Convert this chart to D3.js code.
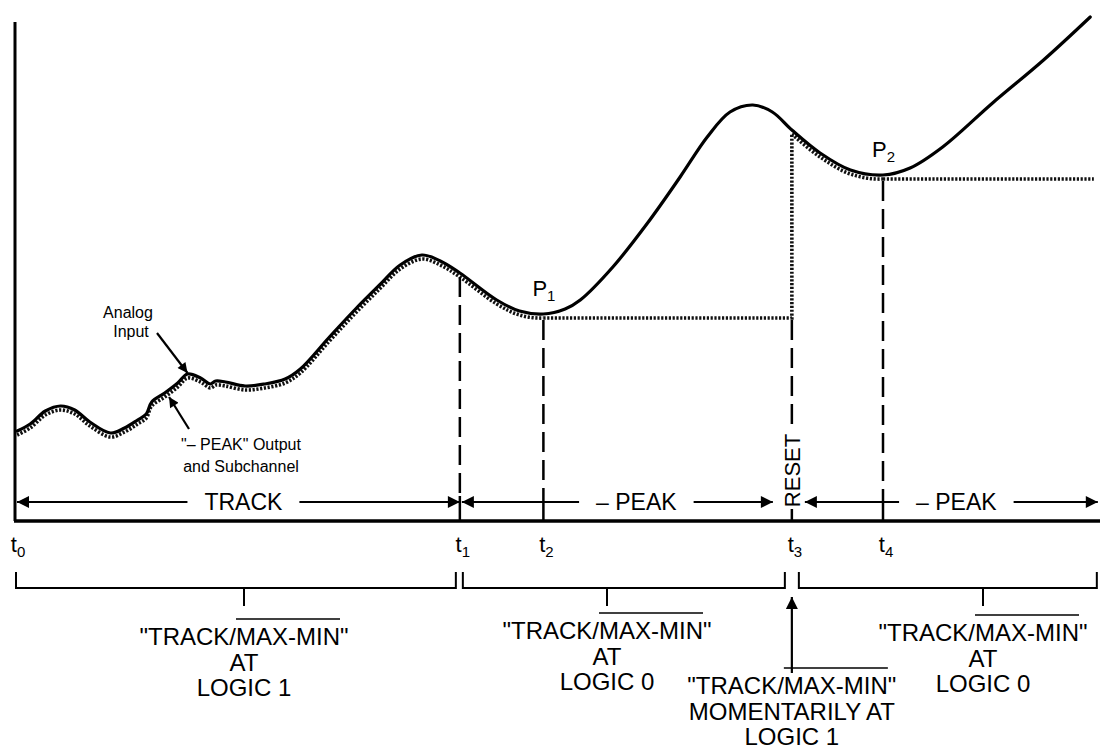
<!DOCTYPE html>
<html>
<head>
<meta charset="utf-8">
<script src="https://cdn.jsdelivr.net/npm/d3@7"></script>
<style>
  body { margin: 0; background: #fff; }
  svg { display: block; font-family: "Liberation Sans", Arial, sans-serif; }
</style>
</head>
<body>
<script>
// analog input (time units, signal units)
const inputTime = [0.2, 1.4, 2.8, 4.2, 5.5, 6.9, 8.8, 10.1, 11.3, 12.1, 12.6, 13.8, 15.0, 15.9, 17.1, 18.0, 18.5, 19.4, 21.2, 23.0,
  24.9, 26.3, 28.9, 31.3, 33.6, 35.5, 37.5, 39.2, 41.0, 44.4, 46.5, 48.7, 50.7, 52.1, 55.1, 58.3, 61.3, 63.8, 65.9, 68.0,
  69.8, 71.6, 74.2, 77.0, 80.0, 82.5, 85.5, 90.1, 94.8, 99.1];
const inputValue = [18.0, 19.4, 22.0, 23.0, 22.2, 19.8, 17.6, 18.6, 20.2, 21.4, 23.8, 25.6, 27.6, 29.4, 28.6, 27.4, 28.0, 27.8, 27.0, 27.4,
  28.4, 30.4, 36.6, 42.2, 47.2, 51.2, 53.2, 52.0, 49.6, 44.2, 42.0, 41.4, 42.4, 44.2, 50.8, 59.6, 68.8, 76.8, 81.8, 83.2,
  81.8, 78.2, 73.6, 70.2, 69.2, 70.6, 74.8, 83.6, 92.2, 100.8];

// event times t0..t4 and end of record
const eventNames = ["0", "1", "2", "3", "4"];
const eventTimes = [0, 41.0, 48.7, 71.6, 80.0];
const endTime = 99.8;

// modes between events
const phaseLabels = ["TRACK", "\u2013 PEAK", "\u2013 PEAK"];
const phaseSpans = [[0, 41.0], [41.0, 71.6], [71.6, 99.8]];

// logic notes under the brackets
const noteLines = [
  ["\"TRACK/MAX-MIN\"", "AT", "LOGIC 1"],
  ["\"TRACK/MAX-MIN\"", "AT", "LOGIC 0"],
  ["\"TRACK/MAX-MIN\"", "MOMENTARILY AT", "LOGIC 1"],
  ["\"TRACK/MAX-MIN\"", "AT", "LOGIC 0"]
];

const W = 1109, H = 753;
const x = d3.scaleLinear().domain([0, 100]).range([15, 1100]);
const y = d3.scaleLinear().domain([0, 100]).range([521, 21]);

const svg = d3.select("body").append("svg").attr("width", W).attr("height", H);
const defs = svg.append("defs");

function addHead(id, len, wid) {
  defs.append("marker").attr("id", id)
    .attr("viewBox", "0 0 10 10").attr("refX", 10).attr("refY", 5)
    .attr("markerUnits", "userSpaceOnUse")
    .attr("markerWidth", len).attr("markerHeight", wid)
    .attr("orient", "auto-start-reverse")
    .append("path").attr("d", "M0,0 L10,5 L0,10 z").attr("fill", "#000");
}
addHead("head", 16, 12);
addHead("headS", 13, 10);

const pts = inputTime.map((t, i) => [t, inputValue[i]]);
const valueAt = t => {
  const i = d3.bisector(d => d[0]).center(pts, t);
  return pts[i][1];
};
const [T0, T1, T2, T3, T4] = eventTimes;

// -PEAK detector: hold the minimum seen since t1, reset at t3
const hold1 = d3.min(pts.filter(d => d[0] >= T1 && d[0] <= T3), d => d[1]);
const hold2 = d3.min(pts.filter(d => d[0] >= T3), d => d[1]);

const line = d3.line().x(d => x(d[0])).y(d => y(d[1])).curve(d3.curveCatmullRom.alpha(0.5));

// output trace follows input where tracking
defs.append("clipPath").attr("id", "trackClip")
  .selectAll("rect").data([[-1, T2], [T3, T4]]).join("rect")
  .attr("x", d => x(d[0])).attr("width", d => x(d[1]) - x(d[0]))
  .attr("y", 0).attr("height", H);

const outG = svg.append("g").attr("transform", "translate(0,4)")
  .attr("fill", "none").attr("stroke", "#111")
  .attr("stroke-width", 3.6).attr("stroke-dasharray", "2.2,1.6");
outG.append("path").attr("d", line(pts)).attr("clip-path", "url(#trackClip)");
outG.append("path").attr("d", `M${x(T2)},${y(hold1)}H${x(T3)}V${y(valueAt(T3))}`);
outG.append("path").attr("d", `M${x(T4)},${y(hold2)}H${x(endTime) - 4}`);

// analog input
svg.append("path").attr("d", line(pts))
  .attr("fill", "none").attr("stroke", "#000").attr("stroke-width", 3.2)
  .attr("stroke-linejoin", "round").attr("stroke-linecap", "round");

// axes
svg.append("line").attr("x1", x(0)).attr("x2", x(0)).attr("y1", y(0)).attr("y2", y(99.8))
  .attr("stroke", "#000").attr("stroke-width", 3);
svg.append("line").attr("x1", x(0) - 1).attr("x2", x(100)).attr("y1", y(0)).attr("y2", y(0))
  .attr("stroke", "#000").attr("stroke-width", 3.5);

// event markers
const arrowY = y(0) - 19;
const resetTop = y(0) - 89, resetBot = y(0) - 12;
const dashTops = [null, y(valueAt(T1)) + 4, y(hold1) + 6, y(hold1) + 6, y(hold2) + 6];
const dashBots = [null, arrowY - 6, arrowY - 6, resetTop - 4, arrowY - 6];
const marks = svg.append("g").attr("stroke", "#000").attr("stroke-width", 2.5);
[1, 2, 3, 4].forEach(i => {
  marks.append("line").attr("x1", x(eventTimes[i])).attr("x2", x(eventTimes[i]))
    .attr("y1", dashTops[i]).attr("y2", dashBots[i]).attr("stroke-dasharray", "20,8");
  marks.append("line").attr("x1", x(eventTimes[i])).attr("x2", x(eventTimes[i]))
    .attr("y1", i === 3 ? resetBot : arrowY - 6).attr("y2", y(0));
});

svg.append("text").attr("transform", `translate(${x(T3) + 1},${(resetTop + resetBot) / 2}) rotate(-90)`)
  .attr("text-anchor", "middle").attr("dominant-baseline", "central")
  .attr("font-size", 22).text("RESET");

// event labels t0..t4
const tl = svg.append("g").attr("font-size", 22).attr("text-anchor", "middle");
eventTimes.forEach((t, i) => {
  const tx = tl.append("text").attr("x", x(t) + 3).attr("y", y(0) + 31);
  tx.append("tspan").text("t");
  tx.append("tspan").attr("font-size", 15).attr("dy", 5).text(eventNames[i]);
});

// P1, P2
[[T2, hold1, "1"], [T4, hold2, "2"]].forEach(([t, v, s]) => {
  const tx = svg.append("text").attr("x", x(t) - 11).attr("y", y(v) - 18).attr("font-size", 22);
  tx.append("tspan").text("P");
  tx.append("tspan").attr("font-size", 15).attr("dy", 5).text(s);
});

// phase arrows
const phaseEnds = [[x(0) + 2, x(T1)], [x(T1) + 2, x(T3) - 19], [x(T3) + 13, x(endTime)]];
const phaseNudge = [5, 19, 5];
phaseLabels.forEach((lab, i) => {
  const [a, b] = phaseEnds[i];
  const cx = (a + b) / 2 + phaseNudge[i];
  const tx = svg.append("text").attr("x", cx).attr("y", arrowY + 8)
    .attr("text-anchor", "middle").attr("font-size", 23).text(lab);
  const w = tx.node().getComputedTextLength();
  const pad = 17;
  svg.append("line").attr("x1", cx - w / 2 - pad).attr("x2", a).attr("y1", arrowY).attr("y2", arrowY)
    .attr("stroke", "#000").attr("stroke-width", 2).attr("marker-end", "url(#head)");
  svg.append("line").attr("x1", cx + w / 2 + pad).attr("x2", b).attr("y1", arrowY).attr("y2", arrowY)
    .attr("stroke", "#000").attr("stroke-width", 2).attr("marker-end", "url(#head)");
});

// brackets
const bTop = 572, bBot = 588, bTick = 606;
const bracketEnds = [[x(0) + 1, x(T1) - 4], [x(T1) + 3, x(T3) - 7], [x(T3) + 7, x(endTime) - 1]];
const tickXs = [244, 607, 983];
const br = svg.append("g").attr("fill", "none").attr("stroke", "#000").attr("stroke-width", 2);
bracketEnds.forEach(([a, b], i) => {
  br.append("path").attr("d", `M${a},${bTop}V${bBot}H${b}V${bTop}`);
  br.append("line").attr("x1", tickXs[i]).attr("x2", tickXs[i]).attr("y1", bBot).attr("y2", bTick);
});
// reset pulse arrow
svg.append("line").attr("x1", x(T3)).attr("x2", x(T3)).attr("y1", 673).attr("y2", 597)
  .attr("stroke", "#000").attr("stroke-width", 2.2).attr("marker-end", "url(#head)");

// logic notes
const noteAnchors = [[244, 645], [607, 639], [x(T3), 694], [983, 641]];
noteLines.forEach((lines, i) => {
  const [cx, by] = noteAnchors[i];
  lines.forEach((s, j) => {
    const tx = svg.append("text").attr("x", cx).attr("y", by + j * 25.5)
      .attr("text-anchor", "middle").attr("font-size", 24).text(s);
    if (j === 0) {
      const n = tx.node();
      const k = s.indexOf("MAX");
      const x1 = n.getStartPositionOfChar(k).x;
      const x2 = n.getEndPositionOfChar(k + 6).x;
      svg.append("line").attr("x1", x1).attr("x2", x2).attr("y1", by - 26).attr("y2", by - 26)
        .attr("stroke", "#000").attr("stroke-width", 1.5);
    }
  });
});

// callouts
const ca = svg.append("g").attr("font-size", 16).attr("text-anchor", "middle");
ca.append("text").attr("x", 128).attr("y", 318).text("Analog");
ca.append("text").attr("x", 131).attr("y", 337).text("Input");
ca.append("text").attr("x", 241).attr("y", 450).text("\"\u2013 PEAK\" Output");
ca.append("text").attr("x", 241).attr("y", 472).text("and Subchannel");
svg.append("line").attr("x1", 157).attr("y1", 333).attr("x2", x(15.9)).attr("y2", y(29.4) - 1)
  .attr("stroke", "#000").attr("stroke-width", 2.2).attr("marker-end", "url(#headS)");
svg.append("line").attr("x1", 189).attr("y1", 429).attr("x2", x(14.2)).attr("y2", y(26.0) + 6)
  .attr("stroke", "#000").attr("stroke-width", 2.2).attr("marker-end", "url(#headS)");
</script>
</body>
</html>
